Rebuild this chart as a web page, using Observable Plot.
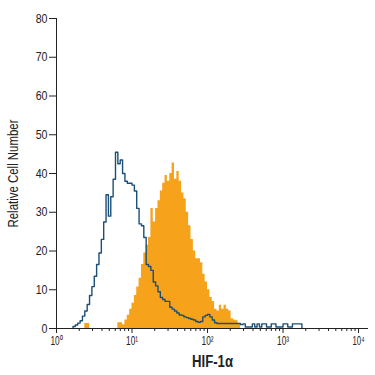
<!DOCTYPE html>
<html>
<head>
<meta charset="utf-8">
<script src="https://cdn.jsdelivr.net/npm/d3@7"></script>
<script src="https://cdn.jsdelivr.net/npm/@observablehq/plot@0.6"></script>
<style>
  html, body { margin: 0; padding: 0; background: #fff; }
  #chart svg { font-family: "Liberation Sans Narrow", "Liberation Sans", Arial, sans-serif; }
</style>
</head>
<body>
<div id="chart"></div>
<script>
// Histogram bins: logarithmic, 32 bins per decade starting at 10^0
const binsPerDecade = 32;

// Control (isotype) — blue outline, counts per bin starting at bin index 7
const controlStartBin = 7;
const controlCounts = [
  0.5, 0.9, 1.4, 2.0, 3.2, 4.5, 6.2, 8.5, 10.8, 13.5,
  16.5, 19.5, 23, 27.5, 34.5, 29, 34, 38.5, 45.5, 42.5,
  43.5, 40, 38, 37.5, 37.5, 37, 35.5, 31, 27, 26.5,
  23.5, 16.5, 16, 15, 12, 11, 9.5, 8, 7.5, 7,
  7, 5.5, 5, 4.5, 4, 3.5, 3.4, 3, 2.8, 2.6,
  2.4, 2.2, 1.8, 1.6, 1.8, 3, 3.4, 3.6, 3, 2.2,
  1.5, 1.3, 1.3, 1.3, 1.3, 1.3, 1.3, 1.3, 1.3, 1.3,
  1.3, 1.0, 1.2, 0.4, 0.4, 0.4, 1.2, 0.4, 1.2, 0.4,
  1.2, 1.2, 0.4, 0.4, 1.2, 1.2, 0.4, 0.4, 0.4, 1.2,
  1.2, 0.4, 0.4, 1.2, 1.2, 1.2, 1.2
];

// HIF-1α stained — orange filled, counts per bin starting at bin index 12
const hifStartBin = 12;
const hifCounts = [
  1.3, 1.3, 0, 0, 0, 0, 0, 0, 0, 0,
  0, 0, 0, 0, 1.5, 1.5, 1.0, 2.2, 3.4, 5,
  6.5, 8.5, 10.7, 13, 16.5, 19.5, 21.5, 23.5, 31, 27.5,
  31, 33, 35.5, 37.5, 39.5, 38, 40, 42.7, 38.5, 40.5,
  38, 35, 33.5, 30, 26.5, 23, 20, 18, 18, 17,
  14, 12, 10, 8, 7, 5, 4.5, 6, 5, 6,
  5, 4.5, 2.5, 2.2, 2, 1.3
];

const yTicks = [0, 10, 20, 30, 40, 50, 60, 70, 80];
const xTicks = [1, 10, 100, 1000, 10000];
const xTickLabels = ["10\u2070", "10\u00b9", "10\u00b2", "10\u00b3", "10\u2074"];
const xMinorMultipliers = [2, 3, 4, 5, 6, 7, 8, 9];
const xTitle = "HIF-1\u03b1";
const yTitle = "Relative Cell Number";

const edge = i => Math.pow(10, i / binsPerDecade);

function stepPoints(start, counts) {
  const pts = [{x: edge(start), y: 0}];
  counts.forEach((c, k) => {
    const i = start + k;
    pts.push({x: edge(i), y: c});
    pts.push({x: edge(i + 1), y: c});
  });
  pts.push({x: edge(start + counts.length), y: 0});
  return pts;
}

const controlPts = stepPoints(controlStartBin, controlCounts);
const hifPts = stepPoints(hifStartBin, hifCounts);

const minorTicks = [];
for (const d of xTicks.slice(0, -1)) for (const m of xMinorMultipliers) minorTicks.push(d * m);

const chart = Plot.plot({
  width: 375,
  height: 375,
  marginLeft: 56,
  marginRight: 7,
  marginTop: 18,
  marginBottom: 47,
  style: {fontSize: "12px", color: "#222"},
  x: {type: "log", domain: [1, 13550]},
  y: {domain: [0, 80]},
  marks: [
    Plot.area(hifPts, {x1: "x", y1: 0, y2: "y", fill: "#f7a21b", curve: "linear"}),
    Plot.line(controlPts, {x: "x", y: "y", stroke: "#1c4f78", strokeWidth: 1.4, curve: "linear"}),
    Plot.ruleY([0], {stroke: "#222", strokeWidth: 1}),
    Plot.ruleX([1], {stroke: "#222", strokeWidth: 1}),
    Plot.axisY({ticks: yTicks, tickSize: 7, tickPadding: 2, fontSize: 13,
      label: yTitle, labelAnchor: "center", labelArrow: "none", labelOffset: 49}),
    Plot.axisX({ticks: minorTicks, tickSize: 3, tickFormat: () => "", label: null}),
    Plot.axisX({ticks: xTicks, tickSize: 5, tickPadding: 3, fontSize: 12,
      tickFormat: (d) => xTickLabels[xTicks.indexOf(d)],
      label: xTitle, labelAnchor: "center", labelArrow: "none", labelOffset: 38})
  ]
});
document.getElementById("chart").appendChild(chart);

// Condense the lettering to resemble the narrow typeface of the reference
const yLabelSet = new Set(yTicks.map(String));
const xLabelSet = new Set(xTickLabels);
d3.select(chart).selectAll("text").each(function () {
  const t = d3.select(this);
  const s = t.text();
  if (s === yTitle) {
    t.attr("font-size", 15).attr("textLength", 108).attr("lengthAdjust", "spacingAndGlyphs");
  } else if (s === xTitle) {
    t.attr("font-size", 16).attr("font-weight", 600).attr("textLength", 41).attr("lengthAdjust", "spacingAndGlyphs");
  } else if (yLabelSet.has(s)) {
    t.attr("textLength", 5.9 * s.length).attr("lengthAdjust", "spacingAndGlyphs");
  } else if (xLabelSet.has(s)) {
    t.attr("textLength", 12).attr("lengthAdjust", "spacingAndGlyphs");
  }
});
</script>
</body>
</html>
